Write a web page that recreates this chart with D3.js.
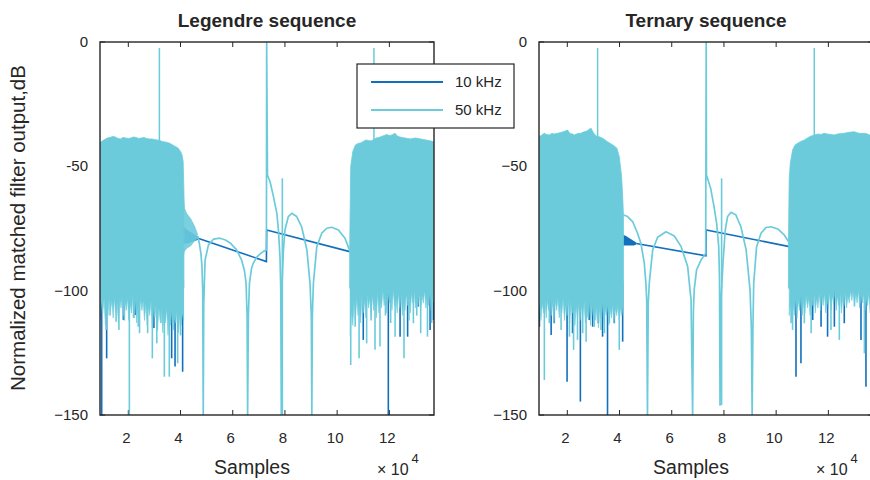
<!DOCTYPE html>
<html><head><meta charset="utf-8">
<script src="https://cdn.jsdelivr.net/npm/d3@7"></script>
<style>
body{margin:0;background:#fff}
svg{display:block}
text{font-family:"Liberation Sans",Arial,Helvetica,sans-serif;fill:#262626}
</style>
</head><body><svg id="c" width="870" height="480"></svg>
<script>
// ---------------- DATA (x in units of 10^4 samples, y in dB) ----------------
const titles = ["Legendre sequence", "Ternary sequence"];
const seriesNames = ["10 kHz", "50 kHz"];
const xTicks = [2, 4, 6, 8, 10, 12];
const yTicks = [0, -50, -100, -150];
const yTickLabels = [["0", "-50", "\u2212100", "\u2212150"], ["0", "\u221250", "\u2212100", "\u2212150"]];
const xDomain = [0.915, 13.71];
const yDomain = [-150, 0];

// Legendre: 50 kHz noise bands, upper envelope [x, top]
const legTop1L = [[0.92,-40.6],[1.00,-39.8],[1.10,-39.2],[1.20,-38.6],[1.30,-38.4],[1.40,-38.0],[1.50,-38.2],[1.60,-38.8],[1.70,-39.0],[1.80,-38.4],[1.90,-38.6],[2.00,-38.8],[2.10,-38.6],[2.20,-38.2],[2.30,-38.4],[2.40,-38.8],[2.50,-38.6],[2.60,-38.4],[2.70,-38.8],[2.80,-39.0],[2.90,-39.0],[3.00,-39.2],[3.10,-39.4],[3.20,-39.6],[3.30,-40.0],[3.40,-40.2],[3.50,-40.4],[3.60,-40.8],[3.70,-41.4],[3.80,-42.0],[3.90,-42.6],[4.00,-44.0],[4.06,-45.5],[4.10,-48],[4.13,-60]];
const legTop2L = [[10.48,-83],[10.52,-50],[10.60,-44],[10.70,-41.4],[10.80,-40.8],[10.90,-40.6],[11.00,-40.0],[11.10,-39.4],[11.20,-39.6],[11.30,-39.8],[11.40,-39.2],[11.50,-38.6],[11.60,-38.4],[11.70,-38.0],[11.80,-37.6],[11.90,-37.2],[12.00,-37.6],[12.10,-37.4],[12.22,-36.7],[12.30,-37.8],[12.40,-38.2],[12.50,-38.4],[12.60,-38.6],[12.70,-38.8],[12.80,-39.0],[12.90,-38.8],[13.00,-38.6],[13.10,-38.8],[13.20,-39.0],[13.30,-39.2],[13.40,-39.4],[13.50,-39.6],[13.60,-39.8],[13.71,-40.2]];
// lower jagged edge of the noise bands [x, floor]
const legFloor1L = [[0.92,-112],[0.97,-104],[1.02,-109],[1.07,-103],[1.12,-114],[1.17,-106],[1.22,-110],[1.27,-102],[1.32,-108],[1.37,-104],[1.42,-111],[1.47,-103],[1.52,-109],[1.57,-105],[1.62,-113],[1.67,-103],[1.72,-107],[1.77,-102],[1.82,-110],[1.87,-104],[1.92,-108],[1.97,-103],[2.02,-112],[2.07,-105],[2.12,-109],[2.17,-102],[2.22,-111],[2.27,-104],[2.32,-113],[2.37,-106],[2.42,-110],[2.47,-103],[2.52,-108],[2.57,-104],[2.62,-112],[2.67,-105],[2.72,-114],[2.77,-106],[2.82,-110],[2.87,-104],[2.92,-115],[2.97,-107],[3.02,-111],[3.07,-105],[3.12,-116],[3.17,-107],[3.22,-112],[3.27,-106],[3.32,-117],[3.37,-108],[3.42,-113],[3.47,-107],[3.52,-118],[3.57,-109],[3.62,-114],[3.67,-108],[3.72,-116],[3.77,-109],[3.82,-113],[3.87,-108],[3.92,-117],[3.97,-110],[4.02,-114],[4.07,-109],[4.12,-112]];
const legFloor2L = [[10.50,-118],[10.55,-108],[10.60,-114],[10.65,-104],[10.70,-112],[10.75,-103],[10.80,-110],[10.85,-105],[10.90,-113],[10.95,-102],[11.00,-109],[11.05,-104],[11.10,-111],[11.15,-101],[11.20,-107],[11.25,-103],[11.30,-110],[11.35,-102],[11.40,-108],[11.45,-103],[11.50,-111],[11.55,-101],[11.60,-109],[11.65,-104],[11.70,-107],[11.75,-100],[11.80,-106],[11.85,-102],[11.90,-109],[11.95,-101],[12.00,-105],[12.05,-102],[12.10,-108],[12.15,-100],[12.20,-106],[12.25,-103],[12.30,-109],[12.35,-101],[12.40,-107],[12.45,-102],[12.50,-110],[12.55,-103],[12.60,-108],[12.65,-101],[12.70,-106],[12.75,-102],[12.80,-109],[12.85,-101],[12.90,-105],[12.95,-100],[13.00,-107],[13.05,-102],[13.10,-106],[13.15,-101],[13.20,-108],[13.25,-102],[13.30,-105],[13.35,-100],[13.40,-107],[13.45,-102],[13.50,-106],[13.55,-101],[13.60,-108],[13.65,-102],[13.71,-105]];
const legTailL = [[4.12,-60,-86],[4.17,-67,-84],[4.25,-69,-83],[4.40,-71,-82],[4.55,-74,-80],[4.66,-77,-79]];
const legTailD = [[4.10,-74,-81],[4.25,-75.5,-81],[4.40,-76.5,-80.5],[4.55,-77.5,-80],[4.67,-78.5,-79.5]];
const legSpikesL = [[1.15,-115.8],[1.30,-110],[1.53,-112.5],[1.64,-115.8],[1.85,-112],[2.04,-150],[2.20,-111],[2.38,-114.5],[2.43,-117.1],[2.74,-117.1],[2.92,-127.2],[3.09,-121.2],[3.25,-113],[3.38,-134.6],[3.57,-134.6],[3.75,-112],[3.89,-129.2],[4.00,-118],
  [10.52,-129.9],[10.69,-114.5],[10.84,-127.2],[11.13,-121.2],[11.30,-112],[11.45,-123.8],[11.64,-122.5],[11.85,-110],[12.05,-113],[12.22,-118.5],[12.56,-127.2],[12.75,-112],[12.92,-113.1],[13.05,-110],[13.20,-117.1],[13.46,-118.5],[13.62,-113]];
const legSpikesD = [[0.98,-150],[1.17,-127.2],[1.81,-111.8],[2.26,-109.8],[2.98,-115],[3.66,-127.2],[3.79,-130.5],[4.08,-132.6],
  [11.00,-119.8],[11.96,-150],[12.41,-118.5],[12.70,-118.5],[13.11,-106.4],[13.56,-115.8],[13.69,-111.8]];
const legPeaksL = [[3.19,-2.4],[11.41,-2.4]];
const legArcL = [[4.66,-78],[4.72,-81],[4.78,-85],[4.82,-90],[4.85,-100],[4.87,-150],
  [4.89,-105],[4.94,-87.7],[5.07,-81.6],[5.26,-79.3],[5.51,-78.9],[5.72,-79.6],[5.90,-80.8],[6.15,-83.6],[6.34,-87.7],[6.45,-92],[6.51,-97],[6.55,-110],[6.57,-150],
  [6.60,-110],[6.64,-97],[6.72,-91],[6.79,-88.9],[6.92,-86.5],[7.05,-85.2],[7.18,-84.2],[7.29,-83.6],
  [7.30,0],
  [7.33,-53.5],[7.43,-56.2],[7.56,-62.2],[7.69,-68.9],[7.75,-75.6],[7.81,-86.3],[7.84,-100],[7.86,-150],
  [7.88,-100],[7.94,-84],[8.00,-75.6],[8.13,-70.2],[8.26,-68.9],[8.45,-70.2],[8.64,-74.3],[8.84,-83.6],[8.96,-97],[9.01,-110],[9.03,-150],
  [9.05,-110],[9.09,-97],[9.22,-82.3],[9.41,-76.9],[9.60,-74.9],[9.79,-74.5],[10.05,-75.6],[10.30,-78.9],[10.47,-83.6]];
const legNarrowL = [[7.90,-54.8],[7.90,-150]];
const legLineD = [[4.67,-78.9],[7.29,-88.3],[7.30,-75.6],[10.48,-84.3]];

// Ternary
const ternTop1L = [[0.89,-38.1],[1.00,-37.6],[1.12,-36.7],[1.20,-37.2],[1.31,-37.4],[1.40,-36.8],[1.50,-37.0],[1.63,-36.7],[1.75,-36.4],[1.88,-36.0],[2.01,-35.4],[2.10,-36.8],[2.20,-37.0],[2.27,-37.4],[2.40,-36.8],[2.52,-36.7],[2.62,-36.2],[2.75,-35.8],[2.85,-35.0],[2.91,-34.7],[3.00,-36.5],[3.10,-37.8],[3.20,-38.0],[3.35,-38.7],[3.45,-39.4],[3.54,-40.1],[3.65,-40.8],[3.74,-41.4],[3.82,-42.0],[3.90,-42.7],[3.99,-46.1],[4.08,-54.2],[4.12,-62],[4.15,-69.6]];
const ternTop2L = [[10.47,-80.3],[10.50,-55],[10.54,-48.8],[10.63,-43.4],[10.72,-41.5],[10.82,-40.7],[10.95,-40.0],[11.08,-39.4],[11.20,-38.6],[11.30,-38.0],[11.46,-37.4],[11.60,-37.0],[11.72,-37.2],[11.84,-36.7],[11.95,-37.0],[12.10,-37.2],[12.23,-37.4],[12.35,-37.0],[12.50,-36.8],[12.61,-36.7],[12.75,-36.4],[12.88,-36.2],[13.00,-36.1],[13.12,-36.6],[13.25,-36.8],[13.38,-36.7],[13.50,-37.0],[13.57,-37.4],[13.69,-37.6]];
const ternFloor1L = [[0.89,-110],[0.94,-104],[0.99,-112],[1.04,-105],[1.09,-109],[1.14,-103],[1.19,-111],[1.24,-104],[1.29,-108],[1.34,-102],[1.39,-110],[1.44,-105],[1.49,-113],[1.54,-104],[1.59,-108],[1.64,-103],[1.69,-111],[1.74,-105],[1.79,-109],[1.84,-103],[1.89,-112],[1.94,-106],[1.99,-110],[2.04,-104],[2.09,-113],[2.14,-105],[2.19,-109],[2.24,-104],[2.29,-114],[2.34,-106],[2.39,-111],[2.44,-105],[2.49,-112],[2.54,-106],[2.59,-110],[2.64,-104],[2.69,-113],[2.74,-107],[2.79,-111],[2.84,-105],[2.89,-114],[2.94,-106],[2.99,-110],[3.04,-105],[3.09,-112],[3.14,-106],[3.19,-115],[3.24,-107],[3.29,-111],[3.34,-105],[3.39,-113],[3.44,-107],[3.49,-110],[3.54,-106],[3.59,-114],[3.64,-107],[3.69,-111],[3.74,-106],[3.79,-113],[3.84,-107],[3.89,-110],[3.94,-106],[3.99,-112],[4.04,-107],[4.09,-110],[4.14,-106]];
const ternFloor2L = [[10.50,-110],[10.55,-104],[10.60,-112],[10.65,-105],[10.70,-110],[10.75,-103],[10.80,-111],[10.85,-104],[10.90,-108],[10.95,-102],[11.00,-110],[11.05,-104],[11.10,-109],[11.15,-102],[11.20,-107],[11.25,-103],[11.30,-110],[11.35,-102],[11.40,-106],[11.45,-101],[11.50,-109],[11.55,-103],[11.60,-107],[11.65,-101],[11.70,-108],[11.75,-102],[11.80,-106],[11.85,-101],[11.90,-109],[11.95,-103],[12.00,-107],[12.05,-101],[12.10,-108],[12.15,-102],[12.20,-105],[12.25,-100],[12.30,-108],[12.35,-102],[12.40,-106],[12.45,-101],[12.50,-109],[12.55,-103],[12.60,-106],[12.65,-101],[12.70,-107],[12.75,-102],[12.80,-105],[12.85,-100],[12.90,-104],[12.95,-100],[13.00,-106],[13.05,-101],[13.10,-105],[13.15,-100],[13.20,-107],[13.25,-102],[13.30,-105],[13.35,-101],[13.40,-108],[13.45,-103],[13.50,-106],[13.55,-101],[13.60,-109],[13.65,-103],[13.69,-107]];
const ternTailL = [];
const ternTailD = [[4.13,-77.5,-81.8],[4.25,-78,-81.8],[4.40,-79,-81.8],[4.55,-80,-81.8],[4.64,-80.6,-81.4]];
const ternSpikesL = [[0.89,-106.4],[1.12,-135.9],[1.31,-113.1],[1.76,-115.8],[2.08,-118.5],[2.24,-123.8],[2.39,-119.8],[2.59,-117.1],[2.72,-120.5],[3.03,-114.5],[3.29,-115.8],[3.42,-117.1],[3.61,-113.1],[3.99,-123.8],
  [10.57,-113.1],[10.63,-115.8],[11.08,-113.1],[11.34,-117.1],[12.10,-115.8],[12.42,-119.8],[13.00,-106.4],[13.38,-125.2]];
const ternSpikesD = [[0.93,-114.5],[1.38,-117.8],[1.50,-113.1],[1.99,-136.6],[2.20,-117.1],[2.50,-144.6],[2.84,-111.8],[2.97,-114.5],[3.19,-113.1],[3.35,-118.5],[3.54,-150],[3.80,-113.1],[4.12,-120.5],
  [10.76,-134.6],[10.95,-129.2],[11.40,-111.8],[11.72,-114.5],[11.97,-118.5],[12.23,-114.5],[12.61,-113.1],[13.25,-119.8],[13.44,-138.6]];
const ternPeaksL = [[3.16,-2.4],[11.46,-2.4]];
const ternArcL = [[4.15,-69.6],[4.31,-70.2],[4.50,-72.2],[4.69,-76.9],[4.82,-81],[4.95,-89],[5.01,-97],[5.04,-103.7],[5.07,-150],
  [5.10,-105],[5.14,-97],[5.27,-83.6],[5.46,-78.5],[5.78,-76.3],[6.10,-78],[6.36,-82.3],[6.61,-90.3],[6.74,-103.7],[6.80,-150],
  [6.83,-108],[6.86,-99.7],[6.95,-91.7],[7.12,-87.7],[7.30,-85],
  [7.32,0],
  [7.33,-53.5],[7.49,-58.8],[7.62,-66.2],[7.72,-72.9],[7.80,-82.3],[7.83,-95],[7.85,-146],
  [7.88,-105],[7.97,-87.7],[8.05,-75.6],[8.14,-70.2],[8.27,-68.5],[8.46,-69.6],[8.65,-74.3],[8.85,-83.6],[9.00,-99.7],[9.05,-115],[9.08,-150],
  [9.11,-115],[9.14,-97],[9.25,-82.3],[9.42,-76.9],[9.61,-74.6],[9.80,-74.3],[10.06,-75.2],[10.31,-77.6],[10.48,-80.3]];
const ternNarrowL = [[7.91,-54.8],[7.91,-146]];
const ternLineD = [[4.64,-81],[7.31,-86],[7.32,-75.6],[10.51,-82.3]];

// ---------------- DRAWING ----------------
const COL_D = "#1170bd", COL_L = "#6ccbdb", AX = "#262626";
const svg = d3.select("#c");

const panels = [
  {left: 100, tops: [legTop1L, legTop2L], floors: [legFloor1L, legFloor2L], tailL: legTailL, tailD: legTailD, spL: legSpikesL, spD: legSpikesD, peaks: legPeaksL, arc: legArcL, narrow: legNarrowL, lineD: legLineD},
  {left: 539, tops: [ternTop1L, ternTop2L], floors: [ternFloor1L, ternFloor2L], tailL: ternTailL, tailD: ternTailD, spL: ternSpikesL, spD: ternSpikesD, peaks: ternPeaksL, arc: ternArcL, narrow: ternNarrowL, lineD: ternLineD}
];
const W = 334, TOP = 42, BOT = 415;

panels.forEach((p, i) => {
  const x = d3.scaleLinear().domain(xDomain).range([p.left, p.left + W]);
  const y = d3.scaleLinear().domain(yDomain).range([BOT, TOP]);
  const g = svg.append("g");
  const cid = "clip" + i;
  g.append("clipPath").attr("id", cid).append("rect")
    .attr("x", p.left).attr("y", TOP).attr("width", W).attr("height", BOT - TOP);

  // ticks (under data)
  const tk = g.append("g").attr("stroke", AX).attr("stroke-width", 1);
  xTicks.forEach(v => {
    tk.append("line").attr("x1", x(v)).attr("x2", x(v)).attr("y1", BOT).attr("y2", BOT - 5);
    tk.append("line").attr("x1", x(v)).attr("x2", x(v)).attr("y1", TOP).attr("y2", TOP + 5);
  });
  yTicks.forEach(v => {
    tk.append("line").attr("x1", p.left).attr("x2", p.left + 5).attr("y1", y(v)).attr("y2", y(v));
    tk.append("line").attr("x1", p.left + W).attr("x2", p.left + W - 5).attr("y1", y(v)).attr("y2", y(v));
  });

  const d = g.append("g").attr("clip-path", `url(#${cid})`);
  const line = d3.line().x(q => x(q[0])).y(q => y(q[1]));
  const area = d3.area().x(q => x(q[0])).y0(q => y(q[2])).y1(q => y(q[1]));
  const topArea = d3.area().x(q => x(q[0])).y0(y(-99)).y1(q => y(q[1]));
  const floorArea = d3.area().x(q => x(q[0])).y0(y(-96)).y1(q => y(q[1]));

  // 10 kHz (dark) first
  d.append("path").datum(p.tailD).attr("d", area).attr("fill", COL_D);
  d.selectAll(null).data(p.spD).enter().append("line")
    .attr("x1", q => x(q[0])).attr("x2", q => x(q[0]))
    .attr("y1", y(-98)).attr("y2", q => y(q[1]))
    .attr("stroke", COL_D).attr("stroke-width", 1.6);
  d.append("path").datum(p.lineD).attr("d", line).attr("fill", "none")
    .attr("stroke", COL_D).attr("stroke-width", 1.6);

  // 50 kHz (light)
  p.tops.forEach(b => {
    d.append("path").datum(b).attr("d", topArea).attr("fill", COL_L)
      .attr("stroke", COL_L).attr("stroke-width", 0.8);
  });
  p.floors.forEach(b => {
    d.append("path").datum(b).attr("d", floorArea).attr("fill", COL_L)
      .attr("stroke", COL_L).attr("stroke-width", 0.6);
  });
  if (p.tailL.length) d.append("path").datum(p.tailL).attr("d", area).attr("fill", COL_L).attr("opacity", 0.9);
  d.selectAll(null).data(p.spL).enter().append("line")
    .attr("x1", q => x(q[0])).attr("x2", q => x(q[0]))
    .attr("y1", y(-98)).attr("y2", q => y(q[1]))
    .attr("stroke", COL_L).attr("stroke-width", 1.6);
  d.selectAll(null).data(p.peaks).enter().append("line")
    .attr("x1", q => x(q[0])).attr("x2", q => x(q[0]))
    .attr("y1", y(-60)).attr("y2", q => y(q[1]))
    .attr("stroke", COL_L).attr("stroke-width", 1.5);
  d.append("path").datum(p.arc).attr("d", line).attr("fill", "none")
    .attr("stroke", COL_L).attr("stroke-width", 1.7).attr("stroke-linejoin", "round");
  d.append("path").datum(p.narrow).attr("d", line).attr("fill", "none")
    .attr("stroke", COL_L).attr("stroke-width", 1.6);

  // frame on top
  g.append("rect").attr("x", p.left).attr("y", TOP).attr("width", W).attr("height", BOT - TOP)
    .attr("fill", "none").attr("stroke", AX).attr("stroke-width", 1.4);

  // tick labels
  xTicks.forEach(v => {
    g.append("text").attr("x", x(v) - 2).attr("y", 443).attr("text-anchor", "middle")
      .attr("font-size", 15).text(v);
  });
  yTicks.forEach((v, k) => {
    g.append("text").attr("x", p.left - 12).attr("y", y(v) + 5).attr("text-anchor", "end")
      .attr("font-size", 15).text(yTickLabels[i][k]);
  });

  // title
  g.append("text").attr("x", p.left + 167).attr("y", 27).attr("text-anchor", "middle")
    .attr("font-size", 19).attr("font-weight", "bold").attr("fill", "#1a1a1a").text(titles[i]);

  // x label
  g.append("text").attr("x", p.left + 152).attr("y", 474).attr("text-anchor", "middle")
    .attr("font-size", 19.5).text("Samples");
  const ex = g.append("text").attr("x", p.left + 277).attr("y", 475).attr("font-size", 16);
  ex.append("tspan").text("\u00d7 10");
  ex.append("tspan").attr("dy", -12).attr("dx", 3).attr("font-size", 13).text("4");
});

// y label
svg.append("text").attr("transform", "translate(25,228) rotate(-90)")
  .attr("text-anchor", "middle").attr("font-size", 20.5)
  .text("Normalized matched filter output,dB");

// legend
const lg = svg.append("g");
lg.append("rect").attr("x", 357).attr("y", 64).attr("width", 157).attr("height", 64)
  .attr("fill", "#fff").attr("stroke", AX).attr("stroke-width", 1.2);
[COL_D, COL_L].forEach((c, k) => {
  const yy = 82 + k * 28;
  lg.append("line").attr("x1", 371).attr("x2", 443).attr("y1", yy).attr("y2", yy)
    .attr("stroke", c).attr("stroke-width", 2);
  lg.append("text").attr("x", 455).attr("y", yy + 5).attr("font-size", 15).text(seriesNames[k]);
});
</script>
</body></html>
